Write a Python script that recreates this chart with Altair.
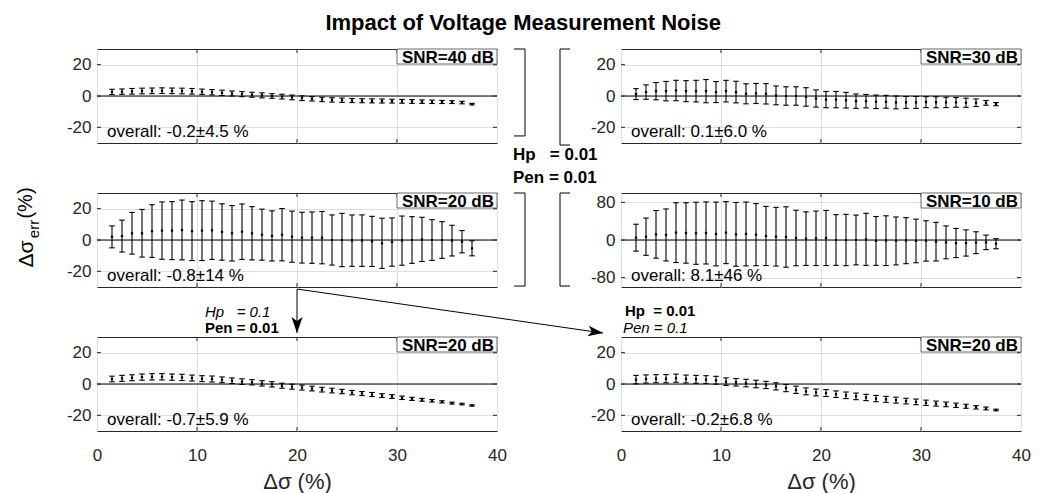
import altair as alt
import pandas as pd

FONT = "Liberation Sans"
NB = "\u00a0"

# ---------------- data ----------------
x_pos = [1.5, 2.5, 3.5, 4.5, 5.5, 6.5, 7.5, 8.5, 9.5, 10.5, 11.5, 12.5, 13.5, 14.5,
         15.5, 16.5, 17.5, 18.5, 19.5, 20.5, 21.5, 22.5, 23.5, 24.5, 25.5, 26.5,
         27.5, 28.5, 29.5, 30.5, 31.5, 32.5, 33.5, 34.5, 35.5, 36.5, 37.5]
x_ticks = [0, 10, 20, 30, 40]
y_ticks_small = [-20, 0, 20]
y_ticks_large = [-80, 0, 80]

snr40_mean = [2.6, 2.8, 3.0, 3.2, 3.3, 3.4, 3.3, 3.2, 3.0, 2.7, 2.4, 2.0, 1.6, 1.2, 0.8,
              0.4, 0.0, -0.4, -0.9, -1.4, -1.8, -2.2, -2.5, -2.7, -2.9, -3.0, -3.1, -3.2,
              -3.3, -3.4, -3.5, -3.6, -3.7, -3.8, -3.9, -4.2, -5.2]
snr40_sd = [1.7, 1.7, 1.8, 1.8, 1.8, 1.8, 1.8, 1.8, 1.8, 1.7, 1.7, 1.7, 1.6, 1.6, 1.6,
            1.6, 1.5, 1.5, 1.5, 1.5, 1.4, 1.4, 1.4, 1.4, 1.3, 1.3, 1.3, 1.3, 1.2, 1.2,
            1.2, 1.1, 1.1, 1.0, 0.9, 0.8, 0.5]

snr30_mean = [1.2, 2.5, 3.1, 3.1, 3.5, 3.1, 3.1, 3.1, 2.5, 3.1, 2.5, 1.4, 1.6, 1.4, 0.4,
              0.0, 0.0, -0.6, -1.6, -2.3, -2.3, -2.7, -3.3, -3.3, -3.7, -3.7, -4.1, -4.1,
              -4.1, -3.9, -4.0, -4.1, -4.1, -4.3, -4.3, -4.4, -5.2]
snr30_sd = [3.5, 4.6, 5.5, 6.2, 6.5, 6.7, 6.9, 7.4, 6.7, 6.9, 6.9, 6.4, 6.4, 6.5, 6.0,
            5.9, 5.9, 5.9, 5.5, 5.2, 5.2, 5.0, 4.6, 4.3, 4.3, 4.1, 4.1, 3.8, 3.8, 3.5,
            3.5, 3.3, 3.1, 2.9, 2.4, 1.5, 1.0]

snr20_mean = [2.0, 2.5, 4.3, 4.3, 5.7, 6.0, 6.0, 6.4, 5.7, 6.0, 6.2, 5.1, 4.3, 5.3, 4.3,
              3.4, 2.6, 3.4, 2.1, 1.5, 1.5, 1.5, 0.0, 0.0, -0.4, -0.4, -0.9, -2.1, -1.3,
              -0.4, 0.0, 0.4, 0.0, 0.0, -0.4, -1.1, -5.3]
snr20_sd = [7.0, 10.2, 13.3, 15.2, 16.8, 18.3, 18.5, 19.1, 18.8, 19.1, 18.6, 18.0, 17.7,
            17.7, 17.0, 16.3, 16.0, 16.7, 16.3, 16.2, 16.4, 16.7, 16.0, 17.0, 16.4, 16.4,
            16.0, 16.0, 15.4, 15.7, 14.9, 14.1, 13.0, 11.7, 9.8, 7.1, 4.8]

snr10_mean = [5.0, 7.0, 12.0, 10.7, 15.7, 15.0, 14.3, 15.0, 12.9, 15.7, 12.0, 12.9, 11.4,
              8.6, 7.0, 6.4, 4.3, 2.9, 3.6, 4.3, 0.0, 0.0, 0.0, 1.4, -2.0, -1.4, -2.0,
              -1.4, -2.0, -2.0, -3.6, -5.0, -6.4, -6.4, -5.7, -5.0, -7.9]
snr10_sd = [28.6, 39.6, 50.7, 55.4, 63.6, 64.3, 66.0, 66.0, 67.9, 66.0, 67.9, 67.9, 66.0,
            62.9, 62.5, 64.3, 59.0, 57.0, 58.0, 58.6, 54.0, 54.6, 53.0, 55.4, 52.0, 52.9,
            51.0, 49.0, 46.4, 42.9, 41.0, 35.0, 31.0, 27.9, 23.2, 15.4, 10.7]

hp01_mean = [3.2, 3.6, 4.0, 4.4, 4.6, 4.6, 4.4, 4.2, 3.8, 3.4, 3.2, 2.7, 2.1, 1.5, 1.1,
             0.4, -0.2, -1.1, -1.7, -2.3, -2.9, -3.6, -4.2, -4.8, -5.5, -6.1, -6.7, -7.4,
             -8.0, -8.8, -9.5, -10.1, -10.7, -11.4, -12.2, -12.8, -13.7]
hp01_sd = [1.8, 1.9, 1.9, 2.0, 2.0, 2.0, 2.0, 2.0, 1.9, 1.9, 1.9, 1.8, 1.8, 1.8, 1.7,
           1.7, 1.7, 1.6, 1.6, 1.6, 1.5, 1.5, 1.5, 1.4, 1.4, 1.3, 1.3, 1.2, 1.2, 1.1,
           1.0, 0.9, 0.8, 0.7, 0.6, 0.5, 0.4]

pen01_mean = [2.8, 3.2, 3.4, 3.4, 3.7, 3.2, 3.0, 2.8, 2.4, 1.5, 1.1, 0.6, 0.0, -0.6, -1.5,
              -2.6, -3.7, -4.7, -5.4, -5.8, -6.5, -7.2, -7.9, -8.6, -9.3, -9.8, -10.3,
              -10.9, -11.4, -12.0, -12.5, -13.0, -13.6, -14.2, -14.9, -15.6, -16.6]
pen01_sd = [2.7, 2.6, 2.6, 2.6, 2.6, 2.5, 2.5, 2.5, 2.5, 2.4, 2.4, 2.4, 2.4, 2.3, 2.3,
            2.3, 2.3, 2.2, 2.2, 2.2, 2.1, 2.1, 2.1, 2.0, 2.0, 1.9, 1.9, 1.8, 1.8, 1.7,
            1.6, 1.5, 1.4, 1.3, 1.1, 0.9, 0.5]

ONE = pd.DataFrame({"k": [0]})
W, H = 400, 94


def panel(mean, sd, label, overall, dom, yticks, bottom, extra=None):
    df = pd.DataFrame({"x": x_pos, "m": mean, "s": sd})
    if bottom:
        xaxis = alt.Axis(values=x_ticks, grid=True, ticks=False, domain=False,
                         labelPadding=16, labelFlush=False, title="Δσ (%)",
                         titleFontSize=22, titleFontWeight="normal", titlePadding=8)
    else:
        xaxis = alt.Axis(values=x_ticks, grid=True, ticks=False, domain=False,
                         labels=False, title=None)
    yaxis = alt.Axis(values=yticks, grid=True, ticks=False, domain=False,
                     labelPadding=6, title=None, labelExpr="'' + datum.value")
    xs = alt.Scale(domain=[0, 40], nice=False, zero=False)
    ys = alt.Scale(domain=dom, nice=False, zero=False)
    X = alt.X("x:Q", scale=xs, axis=xaxis)

    def Y(f):
        return alt.Y(f"{f}:Q", scale=ys, axis=yaxis)

    # inward tick marks on the box (MATLAB style)
    xt = pd.DataFrame({"x": x_ticks[1:-1]})
    yt = pd.DataFrame({"y": yticks})
    tick_layers = [
        alt.Chart(xt).mark_rule(color="#262626", strokeWidth=1).encode(
            x=X, y=alt.value(0), y2=alt.value(4)),
        alt.Chart(xt).mark_rule(color="#262626", strokeWidth=1).encode(
            x=X, y=alt.value(H - 4), y2=alt.value(H)),
        alt.Chart(yt).mark_rule(color="#262626", strokeWidth=1).encode(
            y=Y("y"), x=alt.value(0), x2=alt.value(4)),
        alt.Chart(yt).mark_rule(color="#262626", strokeWidth=1).encode(
            y=Y("y"), x=alt.value(W - 4), x2=alt.value(W)),
    ]

    base = alt.Chart(df).transform_calculate(lo="datum.m - datum.s", hi="datum.m + datum.s")
    zero = alt.Chart(ONE).mark_rule(color="black", strokeWidth=1).encode(y=alt.datum(0))
    bars = base.mark_rule(color="black", strokeWidth=1.1).encode(x=X, y=Y("lo"), y2="hi:Q")
    cap_lo = base.mark_tick(orient="horizontal", size=5.5, thickness=1.1, color="black",
                            opacity=1).encode(x=X, y=Y("lo"))
    cap_hi = base.mark_tick(orient="horizontal", size=5.5, thickness=1.1, color="black",
                            opacity=1).encode(x=X, y=Y("hi"))
    dots = base.mark_square(size=5, color="black", opacity=1).encode(x=X, y=Y("m"))
    box = alt.Chart(pd.DataFrame({"x": [30], "x2": [40]})).mark_rect(
        fill="white", stroke="#444444", strokeWidth=0.8).encode(
        x=X, x2="x2:Q", y=alt.value(0), y2=alt.value(15))
    lbl = alt.Chart(ONE).mark_text(text=label, align="right", baseline="alphabetic",
                                   font=FONT, fontSize=17, fontWeight="bold",
                                   color="black").encode(x=alt.value(397), y=alt.value(13.5))
    ovr = alt.Chart(ONE).mark_text(text=overall, align="left", baseline="alphabetic",
                                   font=FONT, fontSize=17, color="black").encode(
        x=alt.value(10), y=alt.value(88))
    layers = [zero] + tick_layers + [bars, cap_lo, cap_hi, dots, box, lbl, ovr]
    if extra is not None:
        layers += extra(X, Y)
    return alt.layer(*layers).properties(width=W, height=H)


def seg_layer(X, Y, xs, ys, x2s, y2s):
    d = pd.DataFrame({"x": xs, "y": ys, "x2": x2s, "y2": y2s})
    return alt.Chart(d).mark_rule(color="black", strokeWidth=1).encode(
        x=X, y=Y("y"), x2="x2:Q", y2="y2:Q")


def text_layer(X, Y, xs, ys, texts, bold=False, italic=False, size=15):
    d = pd.DataFrame({"x": xs, "y": ys, "t": texts})
    kw = dict(align="left", baseline="alphabetic", font=FONT, fontSize=size, color="black")
    if bold:
        kw["fontWeight"] = "bold"
    if italic:
        kw["fontStyle"] = "italic"
    return alt.Chart(d).mark_text(**kw).encode(x=X, y=Y("y"), text="t:N")


def extra_top_left(X, Y):
    return [
        seg_layer(X, Y, [41.7, 42.8, 41.7, 46.3, 46.3, 46.3],
                  [30, 30, -25.5, 30, 30, -31.3],
                  [42.8, 42.8, 42.8, 47.3, 46.3, 47.3],
                  [30, -25.5, -25.5, 30, -31.3, -31.3]),
        text_layer(X, Y, [41.6], [-40.8], ["Hp" + NB * 3 + "= 0.01"], bold=True, size=17),
        text_layer(X, Y, [41.6], [-55.5], ["Pen = 0.01"], bold=True, size=17),
    ]


DOWN = "M0,0 L-0.7,-2 L0,-1.5 L0.7,-2 Z"
RIGHT = "M0,0 L-2,-0.7 L-1.5,0 L-2,0.7 Z"


def extra_mid_left(X, Y):
    heads_d = alt.Chart(pd.DataFrame({"x": [20], "y": [-59.4]})).mark_point(
        shape=DOWN, filled=True, size=256, color="black", opacity=1).encode(x=X, y=Y("y"))
    heads_r = alt.Chart(pd.DataFrame({"x": [50.6], "y": [-59.4]})).mark_point(
        shape=RIGHT, filled=True, size=225, angle=8, color="black", opacity=1).encode(
        x=X, y=Y("y"))
    ylab = [
        alt.Chart(ONE).mark_text(text="Δσ", angle=270, align="center", baseline="middle",
                                 font=FONT, fontSize=21, color="black").encode(
            x=alt.value(-70), y=alt.value(61)),
        alt.Chart(ONE).mark_text(text="err", angle=270, align="center", baseline="middle",
                                 font=FONT, fontSize=15, color="black").encode(
            x=alt.value(-63), y=alt.value(36)),
        alt.Chart(ONE).mark_text(text="(%)", angle=270, align="center", baseline="middle",
                                 font=FONT, fontSize=20, color="black").encode(
            x=alt.value(-71), y=alt.value(10)),
    ]
    return [
        seg_layer(X, Y, [41.7, 42.8, 41.7, 46.3, 46.3, 46.3, 20, 20],
                  [30, 30, -29.4, 30, 30, -29.4, -31.3, -31.3],
                  [42.8, 42.8, 42.8, 47.3, 46.3, 47.3, 20, 50.6],
                  [30, -29.4, -29.4, 30, -29.4, -29.4, -59.4, -59.4]),
        heads_d, heads_r,
    ] + ylab


def extra_bot_left(X, Y):
    return [
        text_layer(X, Y, [10.8], [42.8], ["Hp" + NB * 3 + "= 0.1"], italic=True),
        text_layer(X, Y, [10.8], [32.8], ["Pen = 0.01"], bold=True),
    ]


def extra_bot_right(X, Y):
    return [
        text_layer(X, Y, [0.4], [43.2], ["Hp" + NB * 2 + "= 0.01"], bold=True),
        text_layer(X, Y, [0.2], [32.8], ["Pen = 0.1"], italic=True),
    ]


p11 = panel(snr40_mean, snr40_sd, "SNR=40 dB", "overall: -0.2±4.5 %", [-30, 30],
            y_ticks_small, False, extra_top_left)
p12 = panel(snr30_mean, snr30_sd, "SNR=30 dB", "overall: 0.1±6.0 %", [-30, 30],
            y_ticks_small, False)
p21 = panel(snr20_mean, snr20_sd, "SNR=20 dB", "overall: -0.8±14 %", [-30, 30],
            y_ticks_small, False, extra_mid_left)
p22 = panel(snr10_mean, snr10_sd, "SNR=10 dB", "overall: 8.1±46 %", [-100, 100],
            y_ticks_large, False)
p31 = panel(hp01_mean, hp01_sd, "SNR=20 dB", "overall: -0.7±5.9 %", [-30, 30],
            y_ticks_small, True, extra_bot_left)
p32 = panel(pen01_mean, pen01_sd, "SNR=20 dB", "overall: -0.2±6.8 %", [-30, 30],
            y_ticks_small, True, extra_bot_right)

chart = alt.concat(p11, p12, p21, p22, p31, p32, columns=2,
                   spacing=alt.RowColnumber(row=50, column=124),
                   bounds="flush").properties(
    title=alt.TitleParams("Impact of Voltage Measurement Noise", font=FONT, fontSize=22,
                          fontWeight="bold", anchor="middle", color="black", offset=13),
    padding={"left": 15, "top": 12, "right": 5, "bottom": 0},
).configure_view(stroke="#262626", strokeWidth=1).configure_axis(
    labelFont=FONT, labelFontSize=17, labelColor="#262626", titleFont=FONT,
    titleColor="#262626", gridColor="#dedede", gridWidth=1, gridOpacity=1
).configure_text(font=FONT)

chart.save("out.html", embed_options={"renderer": "svg", "actions": False})
